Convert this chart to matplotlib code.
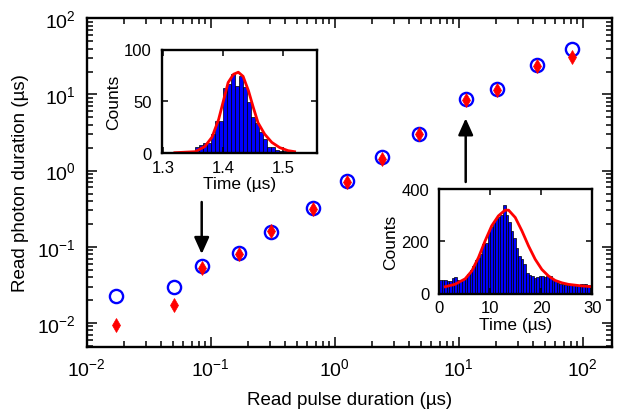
import numpy as np
import matplotlib
matplotlib.use("Agg")
import matplotlib.pyplot as plt

plt.rcParams['font.family'] = ['Liberation Sans', 'DejaVu Sans']
plt.rcParams['mathtext.fontset'] = 'custom'
plt.rcParams['mathtext.rm'] = 'Liberation Sans'
plt.rcParams['mathtext.it'] = 'Liberation Sans:italic'
plt.rcParams['mathtext.bf'] = 'Liberation Sans:bold'

# ---- main data ----
pulse_duration = [0.0171, 0.0508, 0.0845, 0.169, 0.305, 0.668, 1.25, 2.39, 4.81, 11.4, 20.2, 42.6, 81.5]
photon_circles = [0.0226, 0.0297, 0.0564, 0.0828, 0.157, 0.325, 0.741, 1.50, 3.04, 8.66, 11.8, 24.4, 39.9]
photon_diamonds = [0.0093, 0.0174, 0.053, 0.0794, 0.161, 0.316, 0.706, 1.40, 2.98, 8.5, 11.6, 23.7, 31.4]

# ---- inset 1 (short pulse) ----
h1_start = 1.300
h1_width = 1.0 / 150
h1_counts = [0, 0, 0, 0, 0, 1, 0, 0, 6, 7, 9, 9, 18, 31, 31, 63, 67, 76, 65, 74,
             64, 49, 35, 29, 20, 13, 6, 6, 3, 2, 2, 0, 0, 1, 0]
fit1_t = [1.319, 1.353, 1.369, 1.381, 1.392, 1.400, 1.408, 1.417, 1.425, 1.433,
          1.442, 1.450, 1.458, 1.469, 1.481, 1.494, 1.508, 1.519]
fit1_c = [0, 1, 6, 15, 32, 50, 68, 76, 78, 74, 60, 44, 29, 18, 10, 5, 2, 1]

# ---- inset 2 (long pulse) ----
h2_start = 0.0
h2_width = 0.5
h2_counts = [50, 52, 50, 47, 48, 58, 62, 50, 48, 55, 65, 75, 90, 105, 128, 135, 150, 190, 195, 235,
             255, 268, 285, 292, 300, 340, 301, 272, 240, 214, 176, 144, 131, 112, 79, 71, 67, 58, 64, 68,
             66, 65, 67, 68, 55, 48, 42, 38, 36, 34, 33, 33, 32, 34, 34, 36, 38, 35, 32, 30]
fit2_t = [1.2, 3.1, 5.1, 6.4, 7.7, 9.0, 10.3, 11.6, 12.9, 13.6, 14.9, 16.2, 17.5, 18.8,
          20.1, 21.4, 22.7, 24.0, 25.3, 26.6, 27.9, 29.9]
fit2_c = [26, 35, 56, 86, 137, 201, 259, 297, 319, 319, 291, 240, 182, 131,
          92, 67, 50, 41, 35, 32, 29, 26]

W, H = 617, 414
fig = plt.figure(figsize=(W / 100, H / 100), dpi=100)

def fbox(l, r, t, b):
    return [l / W, 1 - b / H, (r - l) / W, (b - t) / H]

ax = fig.add_axes(fbox(86.7, 612.3, 19.3, 347.5))
ax.set_xscale('log')
ax.set_yscale('log')
ax.set_xlim(0.01, 173)
ax.set_ylim(0.0049, 100)
ax.plot(pulse_duration, photon_circles, 'o', ls='none', mfc='none', mec='#0000FF', ms=9.5, mew=1.7, zorder=3)
ax.plot(pulse_duration, photon_diamonds, 'd', ls='none', mfc='#FF0000', mec='#FF0000', ms=7.5, mew=0.5, zorder=4)
ax.set_xlabel('Read pulse duration (µs)', fontsize=13.5, labelpad=8)
ax.set_ylabel('Read photon duration (µs)', fontsize=13.5, labelpad=6)
ax.tick_params(which='both', direction='in', top=True, right=True, labelsize=14, width=1.1)
ax.tick_params(which='major', length=7, pad=8)
ax.tick_params(which='minor', length=4)
for s in ax.spines.values():
    s.set_linewidth(1.7)
ax.yaxis.set_major_locator(matplotlib.ticker.LogLocator(base=10, numticks=10))
ax.yaxis.set_minor_locator(matplotlib.ticker.LogLocator(base=10, subs=np.arange(2, 10), numticks=20))
ax.xaxis.set_minor_locator(matplotlib.ticker.LogLocator(base=10, subs=np.arange(2, 10), numticks=20))

def fp(x, y):
    return (x / W, 1 - y / H)

arrow_style = dict(arrowstyle='-|>,head_length=1.0,head_width=0.45', color='black', lw=1.8,
                   shrinkA=0, shrinkB=0)
ax.annotate('', xy=fp(201.7, 255), xycoords='figure fraction', xytext=fp(201.7, 203),
            textcoords='figure fraction', arrowprops=arrow_style)
ax.annotate('', xy=fp(465.7, 119.3), xycoords='figure fraction', xytext=fp(465.7, 183),
            textcoords='figure fraction', arrowprops=arrow_style)

def style_inset(a):
    a.tick_params(which='both', direction='in', top=True, right=True, labelsize=12, length=4, width=1.1)
    a.tick_params(axis='x', pad=5)
    a.tick_params(axis='y', pad=7)
    for s in a.spines.values():
        s.set_linewidth(1.7)

# inset 1
ax1 = fig.add_axes(fbox(161.7, 316.7, 50.5, 153.7))
edges1 = h1_start + h1_width * np.arange(len(h1_counts))
ax1.bar(edges1, h1_counts, width=h1_width, align='edge', color='#0000FF', edgecolor='black', linewidth=0.5)
ax1.plot(fit1_t, fit1_c, color='#FF0000', lw=2)
ax1.set_xlim(1.297, 1.556)
ax1.set_ylim(0, 100)
ax1.set_xticks([1.3, 1.4, 1.5])
ax1.set_yticks([0, 50, 100])
ax1.set_xlabel('Time (µs)', fontsize=12.5, labelpad=1)
ax1.set_ylabel('Counts', fontsize=12.5, labelpad=2)
style_inset(ax1)

# inset 2
ax2 = fig.add_axes(fbox(439, 592.5, 190, 294.5))
edges2 = h2_start + h2_width * np.arange(len(h2_counts))
ax2.bar(edges2, h2_counts, width=h2_width, align='edge', color='#0000FF', edgecolor='black', linewidth=0.5)
ax2.plot(fit2_t, fit2_c, color='#FF0000', lw=2)
ax2.set_xlim(0, 30)
ax2.set_ylim(0, 400)
ax2.set_xticks([0, 10, 20, 30])
ax2.set_yticks([0, 200, 400])
ax2.set_xlabel('Time (µs)', fontsize=12.5, labelpad=1)
ax2.set_ylabel('Counts', fontsize=12.5, labelpad=2)
style_inset(ax2)

fig.savefig('out.png', dpi=100)
